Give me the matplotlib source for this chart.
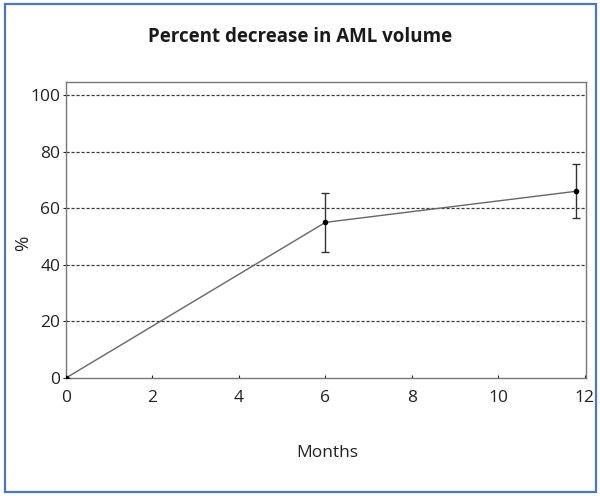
import matplotlib.pyplot as plt
from matplotlib.patches import Rectangle

plt.rcParams['font.family'] = ['Open Sans', 'DejaVu Sans']

# data
months = [0, 6, 11.8]
decrease = [0, 55, 66]
err = [0, 10.5, 9.5]
y_ticks = [0, 20, 40, 60, 80, 100]
x_ticks = [0, 2, 4, 6, 8, 10, 12]

fig = plt.figure(figsize=(6, 4.96), dpi=100)
ax = fig.add_axes([0.11, 0.238, 0.867, 0.596])

# dashed horizontal grid
for yv in y_ticks[1:]:
    ax.axhline(yv, color='#3a3a3a', lw=0.9, ls=(0, (2.5, 1.5)), zorder=1)

ax.errorbar(months, decrease, yerr=err,
            color='#666666', lw=1.0, marker='o', ms=3, mfc='black', mec='black',
            ecolor='#333333', elinewidth=1.0, capsize=3, capthick=1.0, zorder=3)

ax.set_xlim(0, 12.03)
ax.set_ylim(0, 104.5)
ax.set_xticks(x_ticks)
ax.set_yticks(y_ticks)
ax.tick_params(axis='both', labelsize=12.5, colors='#222222', length=2, width=0.8)
ax.tick_params(axis='x', direction='in', pad=9)
ax.tick_params(axis='y', pad=2)
for s in ax.spines.values():
    s.set_color('#777777')
    s.set_linewidth(1.0)

fig.text(0.5, 0.925, 'Percent decrease in AML volume', ha='center', va='center',
         fontsize=13.5, fontweight='bold', color='#1a1a1a')
fig.text(0.038, 0.51, '%', ha='center', va='center', rotation=90,
         fontsize=13.5, color='#222222')
fig.text(0.545, 0.087, 'Months', ha='center', va='center',
         fontsize=12.5, color='#222222')

fig.patches.append(Rectangle((0.008, 0.008), 0.985, 0.984, transform=fig.transFigure,
                             fill=False, edgecolor='#4a78c0', lw=1.6))

fig.savefig('out.png', dpi=100)
